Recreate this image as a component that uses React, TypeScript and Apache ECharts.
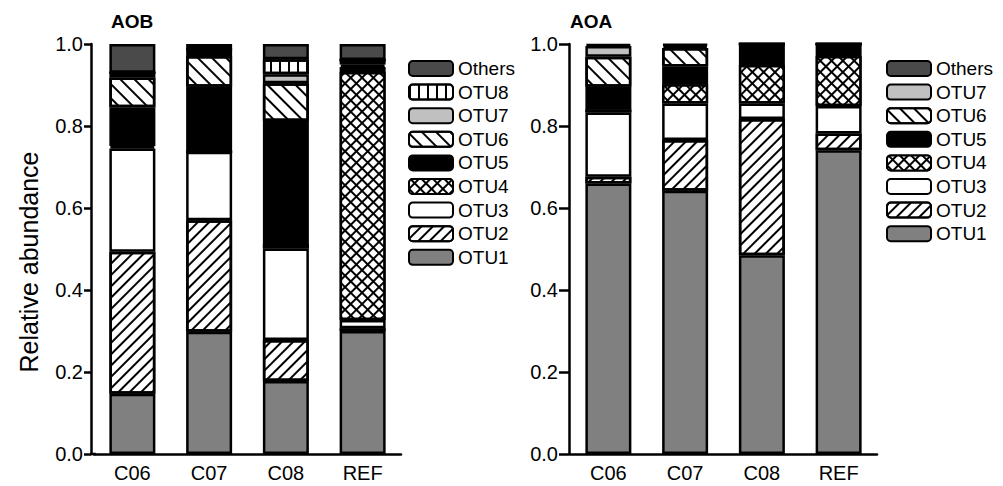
import React, { useEffect, useRef } from "react";
import * as echarts from "echarts";

const categories = ["C06", "C07", "C08", "REF"];
const yTicks = [0, 0.2, 0.4, 0.6, 0.8, 1.0];

// AOB panel (stacked bottom -> top)
const aobOTU1 = [0.147, 0.298, 0.178, 0.3];
const aobOTU2 = [0.346, 0.272, 0.1, 0.007];
const aobOTU3 = [0.252, 0.167, 0.223, 0.02];
const aobOTU4 = [0.006, 0, 0.011, 0.605];
const aobOTU5 = [0.095, 0.159, 0.3, 0.012];
const aobOTU6 = [0.072, 0.075, 0.092, 0.006];
const aobOTU7 = [0.012, 0.012, 0.022, 0.011];
const aobOTU8 = [0, 0.007, 0.037, 0];
const aobOthers = [0.07, 0.01, 0.037, 0.039];

// AOA panel
const aoaOTU1 = [0.66, 0.642, 0.485, 0.741];
const aoaOTU2 = [0.016, 0.124, 0.332, 0.041];
const aoaOTU3 = [0.157, 0.089, 0.038, 0.067];
const aoaOTU4 = [0.008, 0.047, 0.094, 0.122];
const aoaOTU5 = [0.055, 0.043, 0.051, 0.029];
const aoaOTU6 = [0.073, 0.045, 0, 0];
const aoaOTU7 = [0.026, 0.006, 0, 0];
const aoaOthers = [0.005, 0.004, 0, 0];

const FONT = "Liberation Sans, Arial, sans-serif";

const styles: Record<string, any> = {
  OTU1: { color: "#808080" },
  OTU2: {
    color: "#ffffff",
    decal: {
      symbol: "rect",
      symbolSize: 1,
      color: "#000",
      dashArrayX: [1, 0],
      dashArrayY: [1.3, 6],
      rotation: -Math.PI / 4,
    },
  },
  OTU3: { color: "#ffffff" },
  OTU4: {
    color: "#000000",
    decal: {
      symbol: "rect",
      symbolSize: 1,
      color: "#fff",
      dashArrayX: [5.6, 1.5],
      dashArrayY: [5.6, 1.5],
      rotation: Math.PI / 4,
    },
  },
  OTU5: { color: "#000000" },
  OTU6: {
    color: "#ffffff",
    decal: {
      symbol: "rect",
      symbolSize: 1,
      color: "#000",
      dashArrayX: [1, 0],
      dashArrayY: [2, 7.5],
      rotation: Math.PI / 4,
    },
  },
  OTU7: { color: "#c0c0c0" },
  OTU8: {
    color: "#ffffff",
    decal: {
      symbol: "rect",
      symbolSize: 1,
      color: "#000",
      dashArrayX: [1.6, 7],
      dashArrayY: [1, 0],
      rotation: 0,
    },
  },
  Others: { color: "#4a4a4a" },
};

function makeSeries(name: string, data: number[], idx: number, stack: string) {
  return {
    type: "bar",
    name,
    data,
    stack,
    xAxisIndex: idx,
    yAxisIndex: idx,
    barWidth: 46,
    itemStyle: {
      ...styles[name],
      borderColor: "#000",
      borderWidth: 2.5,
    },
    emphasis: { disabled: true },
  };
}

export default function App() {
  const ref = useRef<HTMLDivElement>(null);
  useEffect(() => {
    if (!ref.current) return;
    const chart = echarts.init(ref.current, null, { renderer: "svg" });
    const axisLine = { show: true, lineStyle: { color: "#000", width: 2.5 } };
    const mkX = (gi: number) => ({
      type: "category",
      gridIndex: gi,
      data: categories,
      axisLine,
      axisTick: { show: false },
      axisLabel: { color: "#000", fontSize: 20, fontFamily: FONT, margin: 9 },
    });
    const mkY = (gi: number, name: string, offset: number, tickLen: number, margin: number) => ({
      type: "value",
      gridIndex: gi,
      min: 0,
      max: 1,
      interval: 0.2,
      offset,
      name,
      nameLocation: "middle",
      nameGap: 50,
      nameRotate: 90,
      nameTextStyle: { color: "#000", fontSize: 25, fontFamily: FONT, padding: [0, 26, 0, 0] },
      axisLine,
      axisTick: { show: true, length: tickLen, lineStyle: { color: "#000", width: 2.5 } },
      splitLine: { show: false },
      axisLabel: {
        color: "#000",
        fontSize: 20,
        fontFamily: FONT,
        margin,
        formatter: (v: number) => (yTicks.includes(Math.round(v * 10) / 10) ? v.toFixed(1) : ""),
      },
    });
    const legendCommon = {
      orient: "vertical",
      itemWidth: 44,
      itemHeight: 15,
      itemGap: 4.6,
      selectedMode: false,
      textStyle: { color: "#000", fontSize: 19, fontFamily: FONT },
    };
    chart.setOption({
      animation: false,
      backgroundColor: "#fff",
      title: [
        { text: "AOB", left: 106, top: 7, textStyle: { fontSize: 19, fontWeight: "bold", fontFamily: FONT, color: "#000" } },
        { text: "AOA", left: 565, top: 7, textStyle: { fontSize: 19, fontWeight: "bold", fontFamily: FONT, color: "#000" } },
      ],
      grid: [
        { left: 94, top: 44, width: 307, height: 410 },
        { left: 570, top: 44, width: 307, height: 410 },
      ],
      xAxis: [mkX(0), mkX(1)],
      yAxis: [mkY(0, "Relative abundance", 3, 7, 8), mkY(1, "", 1, 10, 11)],
      legend: [
        {
          ...legendCommon,
          left: 403,
          top: 54,
          data: ["Others", "OTU8", "OTU7", "OTU6", "OTU5", "OTU4", "OTU3", "OTU2", "OTU1"],
        },
        {
          ...legendCommon,
          left: 881,
          top: 54,
          data: ["Others", "OTU7", "OTU6", "OTU5", "OTU4", "OTU3", "OTU2", "OTU1"],
        },
      ],
      graphic: [
        { type: "line", shape: { x1: 90, y1: 454, x2: 96, y2: 454 }, style: { stroke: "#000", lineWidth: 2.5 } },
      ],
      series: [
        makeSeries("OTU1", aobOTU1, 0, "aob"),
        makeSeries("OTU2", aobOTU2, 0, "aob"),
        makeSeries("OTU3", aobOTU3, 0, "aob"),
        makeSeries("OTU4", aobOTU4, 0, "aob"),
        makeSeries("OTU5", aobOTU5, 0, "aob"),
        makeSeries("OTU6", aobOTU6, 0, "aob"),
        makeSeries("OTU7", aobOTU7, 0, "aob"),
        makeSeries("OTU8", aobOTU8, 0, "aob"),
        makeSeries("Others", aobOthers, 0, "aob"),
        makeSeries("OTU1", aoaOTU1, 1, "aoa"),
        makeSeries("OTU2", aoaOTU2, 1, "aoa"),
        makeSeries("OTU3", aoaOTU3, 1, "aoa"),
        makeSeries("OTU4", aoaOTU4, 1, "aoa"),
        makeSeries("OTU5", aoaOTU5, 1, "aoa"),
        makeSeries("OTU6", aoaOTU6, 1, "aoa"),
        makeSeries("OTU7", aoaOTU7, 1, "aoa"),
        makeSeries("Others", aoaOthers, 1, "aoa"),
      ],
    });
    return () => chart.dispose();
  }, []);
  return (
    <div
      ref={ref}
      style={{ position: "absolute", left: 0, top: 0, width: 1003, height: 486 }}
    />
  );
}
